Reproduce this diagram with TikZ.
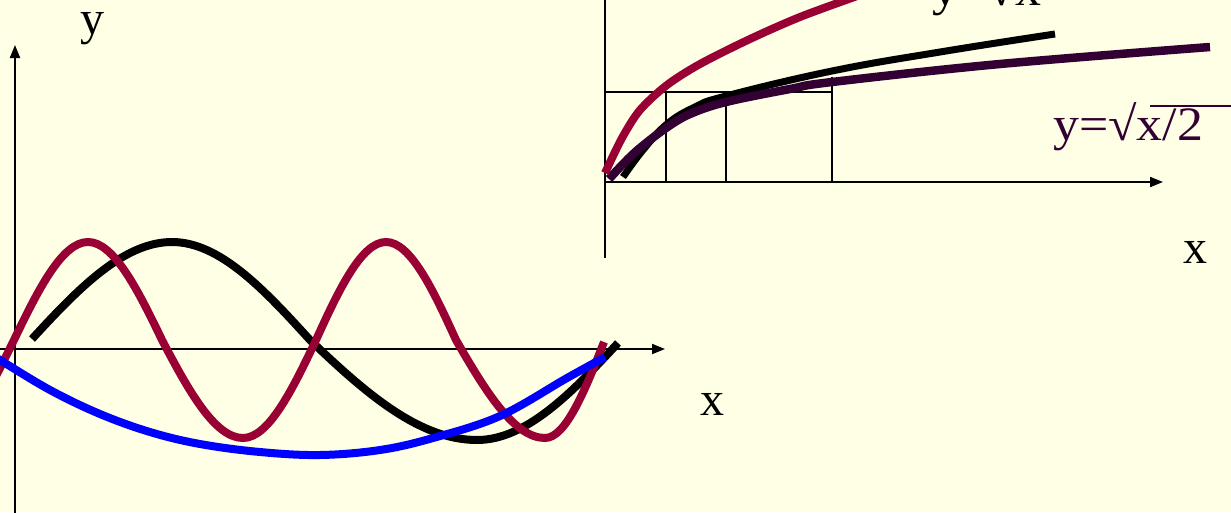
\documentclass[tikz,border=0pt]{standalone}
\usepackage{fontspec}
\setmainfont{Liberation Serif}
\usetikzlibrary{arrows.meta}
\definecolor{bg}{RGB}{255,255,229}
\definecolor{crim}{RGB}{153,0,51}
\definecolor{dpurp}{RGB}{51,0,51}
\definecolor{pblue}{RGB}{0,0,255}
\begin{document}
\begin{tikzpicture}[x=1pt,y=-1pt,
  axis/.style={line width=2pt,-{Triangle[length=13pt,width=10pt]}},
  axisplain/.style={line width=2pt},
  gridline/.style={line width=1.8pt},
  curve/.style={line width=8pt},
  lbl/.style={font=\fontsize{48}{48}\selectfont, inner sep=0pt, anchor=base west}]
\fill[bg] (0,0) rectangle (1231,512);
\useasboundingbox (0,0) rectangle (1231,512);
\clip (0,0) rectangle (1231,512);

% ---------- left graph ----------
\coordinate (ly0) at (15,515);
\coordinate (ly1) at (15,45);
\coordinate (lx0) at (-2,349);
\coordinate (lx1) at (665,349);
\draw[axis] (ly0) -- (ly1);
\draw[axis] (lx0) -- (lx1);
\node[lbl] (ylab) at (80,34) {y};
\node[lbl] (xlab) at (700,415) {x};

% black sine
\draw[curve,black] (32,339) .. controls (77.5,289.5) and (123.1,242) .. (172,242)
  .. controls (219.9,242) and (264.4,289.9) .. (310,340)
  .. controls (363.6,391.1) and (418.3,440) .. (477,440)
  .. controls (526.3,440) and (572.1,392.5) .. (618,343);

% crimson sine
\draw[curve,crim] (-61,438) .. controls (-34.8,438) and (-10.4,390.1) .. (14,340)
  .. controls (38.1,289.9) and (62.1,242) .. (88,242)
  .. controls (113.9,242) and (137.9,289.9) .. (162,340)
  .. controls (188.3,390.1) and (214.7,438) .. (243,438)
  .. controls (268.5,438) and (292.3,390.1) .. (316,340)
  .. controls (338.8,289.9) and (361.5,242) .. (386,242)
  .. controls (410.5,242) and (433.2,289.9) .. (456,340)
  .. controls (484.9,390.1) and (513.9,438) .. (545,438)
  .. controls (565.6,438) and (584.8,391) .. (604,342);

% blue curve
\draw[curve,pblue] plot[smooth,tension=0.6] coordinates {(-10,354) (0,360) (50,390) (100,414) (150,432) (200,444) (260,452) (320,455) (380,450) (433,438) (500,416) (567,378) (605,357)};

% ---------- right graph ----------
\coordinate (ry0) at (605,258);
\coordinate (ry1) at (605,-5);
\coordinate (rx0) at (605,182);
\coordinate (rx1) at (1163,182);
\draw[axisplain] (ry0) -- (ry1);
\draw[axis] (rx0) -- (rx1);
\draw[gridline] (605,92) -- (832,92);
\draw[gridline] (666,92) -- (666,182);
\draw[gridline] (726,92) -- (726,182);
\draw[gridline] (832,77) -- (832,182);

\draw[curve,black,line width=7pt] plot[smooth,tension=0.7] coordinates {(623,177) (643,150) (667,124) (695,107) (726,96) (832,71) (940,52) (1055,34)};
\draw[curve,dpurp,line width=8.5pt] plot[smooth,tension=0.6] coordinates {(609,179) (625,162) (640,148) (666,128) (690,114) (726,102) (790,89) (832,82) (1000,64) (1210,47)};
\draw[curve,crim] plot[smooth,tension=0.5] coordinates {(605,173) (622,138) (640,110) (667,85) (700,64) (750,39) (800,17) (860,-5) (900,-19)};

\node[lbl] (xlab2) at (1183,263) {x};
\node[lbl,text=dpurp,xscale=1.08] (f2) at (1053,140) {y=√x/2};
\draw[dpurp,line width=1.8pt] (1150,106) -- (1235,106);
\node[lbl,xscale=1.08] (f1) at (932,5) {y=√x};
\end{tikzpicture}
\end{document}
